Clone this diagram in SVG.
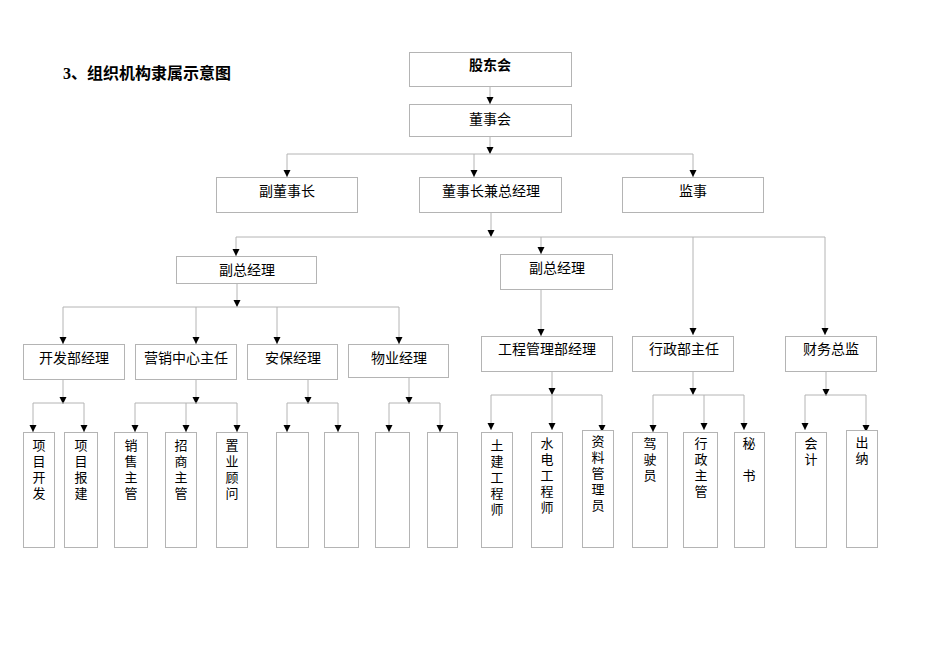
<svg xmlns="http://www.w3.org/2000/svg" width="950" height="672" viewBox="0 0 950 672">
<style>
.bg{fill:#ffffff}
.box{fill:#ffffff;stroke:#b4b4b4;stroke-width:1}
.ln{fill:none;stroke:#b4b4b4;stroke-width:1}
.arr{fill:none;stroke:#b4b4b4;stroke-width:1;marker-end:url(#ah)}
.t{font-family:"Noto Sans CJK SC","Liberation Serif",serif;font-size:14px;fill:#000;text-anchor:middle}
.v{font-size:13px}
.tb{font-weight:bold}
.title{font-family:"Liberation Serif","Noto Sans CJK SC",serif;font-size:16px;font-weight:bold;fill:#000}
</style>
<defs>
<marker id="ah" markerUnits="userSpaceOnUse" markerWidth="8" markerHeight="8" refX="7" refY="3.5" orient="auto">
<path d="M0,0 L7,3.5 L0,7 z" fill="#000"/>
</marker>
</defs>
<rect class="bg" x="0" y="0" width="950" height="672"/>
<text class="title" x="63" y="79">3、组织机构隶属示意图</text>

<g id="connectors">
<path class="arr" d="M490,86 V104"/>
<path class="arr" d="M490,137 V154"/>
<path class="ln" d="M287,154 H693"/>
<path class="arr" d="M287,154 V177"/>
<path class="arr" d="M474,154 V177"/>
<path class="arr" d="M693,154 V177"/>
<path class="arr" d="M491,212 V237"/>
<path class="ln" d="M236,237 H825"/>
<path class="arr" d="M236,237 V256"/>
<path class="arr" d="M541,237 V254"/>
<path class="arr" d="M693,237 V335"/>
<path class="arr" d="M825,237 V335"/>
<path class="arr" d="M237,283 V307"/>
<path class="ln" d="M63,307 H399"/>
<path class="arr" d="M63,307 V344"/>
<path class="arr" d="M196,307 V344"/>
<path class="arr" d="M277,307 V344"/>
<path class="arr" d="M399,307 V344"/>
<path class="arr" d="M541,289 V336"/>
<path class="arr" d="M63,379 V404"/>
<path class="ln" d="M33,403 H84"/>
<path class="arr" d="M33,403 V432"/>
<path class="arr" d="M84,403 V432"/>
<path class="arr" d="M196,379 V404"/>
<path class="ln" d="M135,403 H237"/>
<path class="arr" d="M135,403 V432"/>
<path class="arr" d="M186,403 V432"/>
<path class="arr" d="M237,403 V432"/>
<path class="arr" d="M308,379 V404"/>
<path class="ln" d="M287,403 H338"/>
<path class="arr" d="M287,403 V432"/>
<path class="arr" d="M338,403 V432"/>
<path class="arr" d="M409,377 V404"/>
<path class="ln" d="M389,403 H440"/>
<path class="arr" d="M389,403 V432"/>
<path class="arr" d="M440,403 V432"/>
<path class="arr" d="M552,371 V395"/>
<path class="ln" d="M491,395 H602"/>
<path class="arr" d="M491,395 V430"/>
<path class="arr" d="M552,395 V430"/>
<path class="arr" d="M602,395 V432"/>
<path class="arr" d="M693,371 V395"/>
<path class="ln" d="M653,395 H744"/>
<path class="arr" d="M653,395 V432"/>
<path class="arr" d="M704,395 V430"/>
<path class="arr" d="M744,395 V430"/>
<path class="arr" d="M826,371 V396"/>
<path class="ln" d="M805,395 H866"/>
<path class="arr" d="M805,395 V430"/>
<path class="arr" d="M866,395 V432"/>
</g>

<g id="n-gudonghui"><rect class="box" x="409.5" y="52.5" width="162" height="34"/><text class="t tb" x="490" y="70">股东会</text></g>
<g id="n-dongshihui"><rect class="box" x="409.5" y="104.5" width="162" height="32"/><text class="t" x="490" y="124">董事会</text></g>
<g id="n-fudongshizhang"><rect class="box" x="216.5" y="177.5" width="141" height="35"/><text class="t" x="287" y="196">副董事长</text></g>
<g id="n-dongshizhang"><rect class="box" x="419.5" y="177.5" width="142" height="35"/><text class="t" x="491" y="196">董事长兼总经理</text></g>
<g id="n-jianshi"><rect class="box" x="622.5" y="177.5" width="141" height="35"/><text class="t" x="693" y="196">监事</text></g>

<g id="n-fuzong1"><rect class="box" x="176.5" y="256.5" width="140" height="27"/><text class="t" x="247" y="275">副总经理</text></g>
<g id="n-fuzong2"><rect class="box" x="500.5" y="254.5" width="112" height="35"/><text class="t" x="557" y="273">副总经理</text></g>

<g id="n-kaifa"><rect class="box" x="23.5" y="344.5" width="101" height="35"/><text class="t" x="74" y="363">开发部经理</text></g>
<g id="n-yingxiao"><rect class="box" x="135.5" y="344.5" width="101" height="35"/><text class="t" x="186" y="363">营销中心主任</text></g>
<g id="n-anbao"><rect class="box" x="247.5" y="344.5" width="90" height="35"/><text class="t" x="293" y="363">安保经理</text></g>
<g id="n-wuye"><rect class="box" x="348.5" y="344.5" width="100" height="33"/><text class="t" x="399" y="363">物业经理</text></g>
<g id="n-gongcheng"><rect class="box" x="481.5" y="336.5" width="131" height="35"/><text class="t" x="547" y="354">工程管理部经理</text></g>
<g id="n-xingzheng"><rect class="box" x="632.5" y="336.5" width="101" height="35"/><text class="t" x="684" y="354">行政部主任</text></g>
<g id="n-caiwu"><rect class="box" x="785.5" y="336.5" width="91" height="35"/><text class="t" x="831" y="354">财务总监</text></g>

<g id="n-xmkf"><rect class="box" x="23.5" y="432.5" width="31" height="115"/><text class="t v" x="39" y="450"><tspan x="39">项</tspan><tspan x="39" dy="16">目</tspan><tspan x="39" dy="16">开</tspan><tspan x="39" dy="16">发</tspan></text></g>
<g id="n-xmbj"><rect class="box" x="64.5" y="432.5" width="33" height="115"/><text class="t v" x="81" y="450"><tspan x="81">项</tspan><tspan x="81" dy="16">目</tspan><tspan x="81" dy="16">报</tspan><tspan x="81" dy="16">建</tspan></text></g>
<g id="n-xszg"><rect class="box" x="114.5" y="432.5" width="33" height="115"/><text class="t v" x="131" y="450"><tspan x="131">销</tspan><tspan x="131" dy="16">售</tspan><tspan x="131" dy="16">主</tspan><tspan x="131" dy="16">管</tspan></text></g>
<g id="n-zszg"><rect class="box" x="165.5" y="432.5" width="31" height="115"/><text class="t v" x="181" y="450"><tspan x="181">招</tspan><tspan x="181" dy="16">商</tspan><tspan x="181" dy="16">主</tspan><tspan x="181" dy="16">管</tspan></text></g>
<g id="n-zygw"><rect class="box" x="216.5" y="432.5" width="31" height="115"/><text class="t v" x="232" y="450"><tspan x="232">置</tspan><tspan x="232" dy="16">业</tspan><tspan x="232" dy="16">顾</tspan><tspan x="232" dy="16">问</tspan></text></g>
<g id="n-ab1"><rect class="box" x="276.5" y="432.5" width="32" height="115"/></g>
<g id="n-ab2"><rect class="box" x="324.5" y="432.5" width="34" height="115"/></g>
<g id="n-wy1"><rect class="box" x="375.5" y="432.5" width="34" height="115"/></g>
<g id="n-wy2"><rect class="box" x="427.5" y="432.5" width="30" height="115"/></g>
<g id="n-tj"><rect class="box" x="481.5" y="432.5" width="31" height="115"/><text class="t v" x="497" y="450"><tspan x="497">土</tspan><tspan x="497" dy="16">建</tspan><tspan x="497" dy="16">工</tspan><tspan x="497" dy="16">程</tspan><tspan x="497" dy="16">师</tspan></text></g>
<g id="n-sd"><rect class="box" x="531.5" y="432.5" width="31" height="115"/><text class="t v" x="547" y="448"><tspan x="547">水</tspan><tspan x="547" dy="16">电</tspan><tspan x="547" dy="16">工</tspan><tspan x="547" dy="16">程</tspan><tspan x="547" dy="16">师</tspan></text></g>
<g id="n-zl"><rect class="box" x="582.5" y="430.5" width="31" height="117"/><text class="t v" x="598" y="446"><tspan x="598">资</tspan><tspan x="598" dy="16">料</tspan><tspan x="598" dy="16">管</tspan><tspan x="598" dy="16">理</tspan><tspan x="598" dy="16">员</tspan></text></g>
<g id="n-js"><rect class="box" x="632.5" y="432.5" width="35" height="115"/><text class="t v" x="650" y="448"><tspan x="650">驾</tspan><tspan x="650" dy="16">驶</tspan><tspan x="650" dy="16">员</tspan></text></g>
<g id="n-xzzg"><rect class="box" x="683.5" y="432.5" width="34" height="115"/><text class="t v" x="701" y="448"><tspan x="701">行</tspan><tspan x="701" dy="16">政</tspan><tspan x="701" dy="16">主</tspan><tspan x="701" dy="16">管</tspan></text></g>
<g id="n-ms"><rect class="box" x="734.5" y="432.5" width="30" height="115"/><text class="t v" x="749" y="448"><tspan x="749">秘</tspan><tspan x="749" dy="32">书</tspan></text></g>
<g id="n-kj"><rect class="box" x="795.5" y="432.5" width="31" height="115"/><text class="t v" x="811" y="448"><tspan x="811">会</tspan><tspan x="811" dy="16">计</tspan></text></g>
<g id="n-cn"><rect class="box" x="846.5" y="430.5" width="31" height="117"/><text class="t v" x="862" y="447"><tspan x="862">出</tspan><tspan x="862" dy="16">纳</tspan></text></g>
</svg>
